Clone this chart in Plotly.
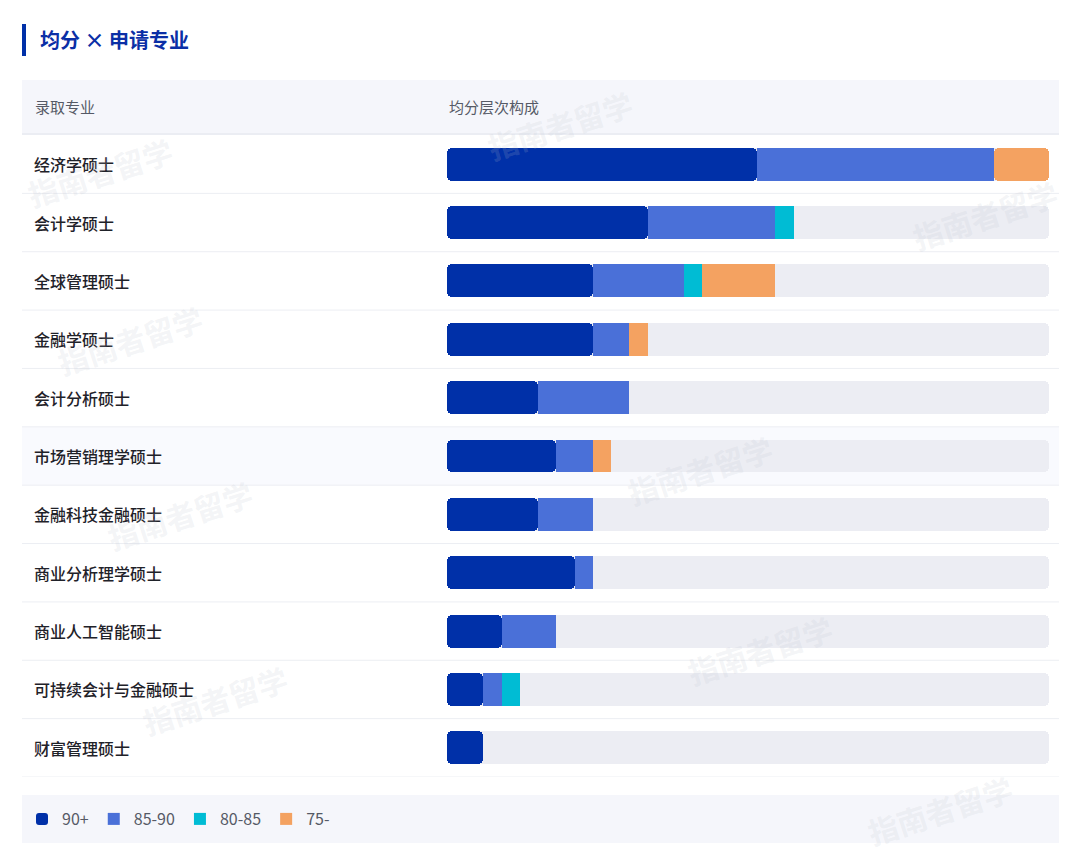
import plotly.graph_objects as go

categories = ["经济学硕士", "会计学硕士", "全球管理硕士", "金融学硕士", "会计分析硕士",
              "市场营销理学硕士", "金融科技金融硕士", "商业分析理学硕士", "商业人工智能硕士",
              "可持续会计与金融硕士", "财富管理硕士"]
v90 = [17, 11, 8, 8, 5, 6, 5, 7, 3, 2, 2]
v85 = [13, 7, 5, 2, 5, 2, 3, 1, 3, 1, 0]
v80 = [0, 1, 1, 0, 0, 0, 0, 0, 0, 1, 0]
v75 = [3, 0, 4, 1, 0, 1, 0, 0, 0, 0, 0]
series_names = ["90+", "85-90", "80-85", "75-"]
colors = ["#0030a8", "#4a70d8", "#00bcd4", "#f4a261"]
track_color = "#ecedf3"

W, H = 1080, 863
n = len(categories)
totals = [a + b + c + d for a, b, c, d in zip(v90, v85, v80, v75)]
tmax = max(totals)
ypos = list(range(n))
FONT = "Noto Sans CJK SC"

def px(xp):
    return xp / W

def py(yp):
    return 1 - yp / H

fig = go.Figure()
bw = 0.565
mid = tmax / 2
# background track: two overlapping pieces so both ends get rounded, no seam
fig.add_trace(go.Bar(y=ypos, x=[-(mid + 1)] * n, base=[mid + 1] * n, orientation="h", width=bw,
                     marker=dict(color=track_color, cornerradius=5, line=dict(width=0)),
                     showlegend=False, hoverinfo="skip"))
fig.add_trace(go.Bar(y=ypos, x=[tmax - (mid - 1)] * n, base=[mid - 1] * n, orientation="h", width=bw,
                     marker=dict(color=track_color, cornerradius=5, line=dict(width=0)),
                     showlegend=False, hoverinfo="skip"))
# 90+ drawn from its end back to 0 so the left end is rounded
fig.add_trace(go.Bar(y=ypos, x=[-v for v in v90], base=v90, orientation="h", width=bw,
                     name=series_names[0], legendgroup=series_names[0],
                     marker=dict(color=colors[0], cornerradius=5, line=dict(width=0)),
                     hoverinfo="skip"))
cum = list(v90)
for vals, name, col in zip([v85, v80, v75], series_names[1:], colors[1:]):
    end = [c + v for c, v in zip(cum, vals)]
    full = [e >= tmax and v > 0 for e, v in zip(end, vals)]
    # segments not reaching the track end: square corners
    fig.add_trace(go.Bar(y=ypos, x=[0 if f else v for v, f in zip(vals, full)], base=list(cum),
                         orientation="h", width=bw, name=name, legendgroup=name,
                         marker=dict(color=col, line=dict(width=0)), hoverinfo="skip"))
    # segments reaching the track end: rounded right end
    if any(full):
        fig.add_trace(go.Bar(y=ypos, x=[v if f else 0 for v, f in zip(vals, full)], base=list(cum),
                             orientation="h", width=bw, name=name, legendgroup=name, showlegend=False,
                             marker=dict(color=col, cornerradius=5, line=dict(width=0)),
                             hoverinfo="skip"))
    cum = end

shapes = []
# title accent bar
shapes.append(dict(type="rect", xref="paper", yref="paper", x0=px(22), x1=px(26),
                   y0=py(56), y1=py(24), fillcolor="#0030a8", line=dict(width=0), layer="below"))
# header band
shapes.append(dict(type="rect", xref="paper", yref="paper", x0=px(22), x1=px(1059),
                   y0=py(133), y1=py(80), fillcolor="#f5f6fb", line=dict(width=0), layer="below"))
shapes.append(dict(type="line", xref="paper", yref="paper", x0=px(22), x1=px(1059),
                   y0=py(134), y1=py(134), line=dict(color="#e4e7ef", width=1.5), layer="below"))
# highlighted row
shapes.append(dict(type="rect", xref="paper", yref="y", x0=px(22), x1=px(1059),
                   y0=4.5, y1=5.5, fillcolor="#f9fafe", line=dict(width=0), layer="below"))
# row separators
for i in range(n):
    shapes.append(dict(type="line", xref="paper", yref="y", x0=px(22), x1=px(1059),
                       y0=i + 0.5, y1=i + 0.5, line=dict(color="#eceef3", width=1), layer="below"))
# legend box
shapes.append(dict(type="rect", xref="paper", yref="paper", x0=px(22), x1=px(1059),
                   y0=py(843), y1=py(795), fillcolor="#f5f6fb", line=dict(width=0), layer="below"))

annotations = []
annotations.append(dict(text="<b>均分 × 申请专业</b>", xref="paper", yref="paper", x=px(38), y=py(40),
                        xanchor="left", yanchor="middle", showarrow=False,
                        font=dict(family=FONT, size=20, color="#0b2fa6")))
annotations.append(dict(text="录取专业", xref="paper", yref="paper", x=px(33), y=py(106),
                        xanchor="left", yanchor="middle", showarrow=False,
                        font=dict(family=FONT, size=15, color="#555a66")))
annotations.append(dict(text="均分层次构成", xref="paper", yref="paper", x=px(447), y=py(106),
                        xanchor="left", yanchor="middle", showarrow=False,
                        font=dict(family=FONT, size=15, color="#555a66")))
for i, c in enumerate(categories):
    annotations.append(dict(text=c, xref="paper", yref="y", x=px(32), y=i,
                            xanchor="left", yanchor="middle", showarrow=False,
                            font=dict(family=FONT, size=16, color="#1f2229", weight=500)))

# faint watermarks
wm = [(100, 172), (130, 340), (180, 515), (215, 700), (560, 125), (700, 470), (760, 650), (940, 810), (985, 215)]
for (wx, wy) in wm:
    annotations.append(dict(text="<b>指南者留学</b>", xref="paper", yref="paper", x=px(wx), y=py(wy),
                            xanchor="center", yanchor="middle", showarrow=False, textangle=-18,
                            font=dict(family=FONT, size=30, color="rgba(190,195,205,0.18)")))

fig.update_layout(
    width=W, height=H,
    margin=dict(l=0, r=0, t=0, b=0),
    paper_bgcolor="white", plot_bgcolor="rgba(0,0,0,0)",
    barmode="overlay",
    bargap=0,
    xaxis=dict(domain=[px(447), px(1049)], range=[0, tmax], visible=False, fixedrange=True),
    yaxis=dict(domain=[py(777), py(135)], range=[n - 0.5, -0.5], visible=False, fixedrange=True),
    shapes=shapes,
    annotations=annotations,
    showlegend=True,
    legend=dict(orientation="h", x=px(22), y=py(819), xanchor="left", yanchor="middle",
                bgcolor="rgba(0,0,0,0)", font=dict(family=FONT, size=16, color="#555a66"),
                traceorder="normal", itemclick=False, itemdoubleclick=False),
    font=dict(family=FONT),
)

fig.write_html("out.html", config={"displayModeBar": False},
               post_script="document.body.style.margin='0';document.body.style.padding='0';")
